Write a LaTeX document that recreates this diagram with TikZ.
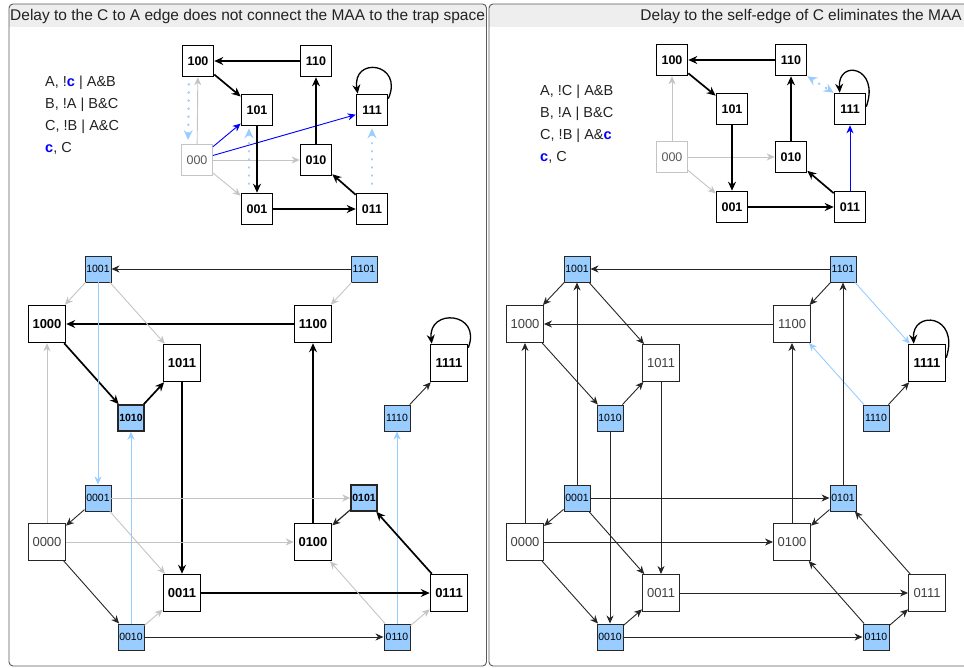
\documentclass[tikz,border=0pt]{standalone}
\usepackage{fontspec}
\setmainfont{Liberation Sans}
\usetikzlibrary{arrows.meta,calc}

\definecolor{paleblue}{HTML}{99CCFF}
\definecolor{fadegray}{HTML}{C4C4C4}
\definecolor{framegray}{HTML}{5A5A5A}
\definecolor{titlegray}{HTML}{EEEEEE}
\definecolor{ink}{HTML}{222222}

\tikzset{
  arr/.style={-{Stealth[length=9pt,width=8pt,inset=3pt]}},
  arrsmall/.style={-{Stealth[length=8pt,width=7pt,inset=2.5pt]}},
  strong/.style={arr, line width=1.7pt, black},
  norm/.style={arrsmall, line width=0.9pt, black!85},
  fade/.style={arrsmall, line width=0.9pt, fadegray},
  bluearr/.style={arrsmall, line width=0.9pt, blue},
  pale/.style={arrsmall, line width=0.9pt, paleblue},
  paledot/.style={-{Stealth[length=10pt,width=9pt,inset=3.5pt]}, paleblue, line width=2.6pt, line cap=round, dash pattern=on 0.1pt off 8pt},
  loopedge/.style={arr, line width=1.3pt, black},
  stbox/.style={draw, line width=1.6pt, minimum size=31pt, inner sep=0pt, font=\bfseries\fontsize{12.5}{13}\selectfont},
  stfade/.style={draw=fadegray, line width=0.9pt, minimum size=31pt, inner sep=0pt, text=black!65, font=\fontsize{12.5}{13}\selectfont},
  boldbox/.style={draw, line width=1.5pt, minimum size=37pt, inner sep=0pt, font=\bfseries\fontsize{13}{13}\selectfont},
  openbox/.style={draw=black!85, line width=0.9pt, minimum size=37pt, inner sep=0pt, text=black!75, font=\fontsize{13}{13}\selectfont},
  bluebox/.style={draw=black!85, fill=paleblue, line width=0.9pt, minimum size=26pt, inner sep=0pt, font=\fontsize{10.5}{11}\selectfont},
  blueboldbox/.style={bluebox, line width=1.5pt, font=\bfseries\fontsize{10.5}{11}\selectfont},
  legend/.style={anchor=west, inner sep=0pt, text=ink, font=\fontsize{14.5}{15}\selectfont},
  titletext/.style={inner sep=0pt, text=ink, font=\fontsize{15.5}{16}\selectfont}
}
\newcommand{\cdel}{\textcolor{blue}{\bfseries c}}

\begin{document}
\begin{tikzpicture}[x=1pt, y=-1pt]
\useasboundingbox (0,0) rectangle (964,668);

\begin{scope}
\clip[rounded corners=4pt] (9,4) rectangle (486.5,666);
\fill[titlegray] (9,4) rectangle (486.5,27);
\end{scope}
\draw[framegray, line width=0.9pt, rounded corners=4pt] (9,4) rectangle (486.5,666);
\begin{scope}
\clip[rounded corners=4pt] (489,4) rectangle (970,666);
\fill[titlegray] (489,4) rectangle (970,27);
\end{scope}
\draw[framegray, line width=0.9pt, rounded corners=4pt] (489,4) rectangle (970,666);

\node[titletext, anchor=west] (ltitle) at (10,16) {Delay to the C to A edge does not connect the MAA to the trap space};
\node[titletext, anchor=east] (rtitle) at (962,16) {Delay to the self-edge of C eliminates the MAA};

\node[legend] (la) at (45,83) {A, !\cdel{} | A\&B};
\node[legend] (lb) at (45,105) {B, !A | B\&C};
\node[legend] (lc) at (45,127) {C, !B | A\&C};
\node[legend] (ld) at (45,148) {\cdel, C};

\node[legend] (ra) at (540,92) {A, !C | A\&B};
\node[legend] (rb) at (540,114) {B, !A | B\&C};
\node[legend] (rc) at (540,136) {C, !B | A\&\cdel};
\node[legend] (rd) at (540,157) {\cdel, C};

\node[stbox] (a100) at (198,61) {100};
\node[stbox] (a110) at (316,61) {110};
\node[stbox] (a101) at (257,110) {101};
\node[stbox] (a111) at (372,110) {111};
\node[stfade] (a000) at (197,160) {000};
\node[stbox] (a010) at (316,160) {010};
\node[stbox] (a001) at (257,209) {001};
\node[stbox] (a011) at (372,209) {011};

\draw[fade] (a000) -- (a100);
\draw[fade] (a000) -- (a010);
\draw[fade] (a000) -- (a001);
\draw[bluearr] (a000) -- (a101);
\draw[bluearr] (a000) -- (a111);
\draw[strong] (a110) -- (a100);
\draw[strong] (a100) -- (a101);
\draw[strong] (a101) -- (a001);
\draw[strong] (a001) -- (a011);
\draw[strong] (a011) -- (a010);
\draw[strong] (a010) -- (a110);
\draw[loopedge] ($(a111.north east)+(0,5)$) .. controls +(16,-36) and +(-6,-38) .. ($(a111.north west)+(2,0)$);
\draw[paledot, shorten <=7pt, shorten >=4pt] ([xshift=-9pt]a100.south) -- ([xshift=-9pt]a000.north);
\draw[paledot, shorten <=9pt, shorten >=2pt] ([xshift=-8pt]a001.north) -- ([xshift=-8pt]a101.south);
\draw[paledot, shorten <=9pt, shorten >=2pt] (a011) -- (a111);

\node[stbox] (b100) at (672,60) {100};
\node[stbox] (b110) at (791,60) {110};
\node[stbox] (b101) at (732,109) {101};
\node[stbox] (b111) at (850,109) {111};
\node[stfade] (b000) at (672,157) {000};
\node[stbox] (b010) at (791,157) {010};
\node[stbox] (b001) at (732,207) {001};
\node[stbox] (b011) at (850,207) {011};

\draw[fade] (b000) -- (b100);
\draw[fade] (b000) -- (b010);
\draw[fade] (b000) -- (b001);
\draw[bluearr] (b011) -- (b111);
\draw[strong] (b110) -- (b100);
\draw[strong] (b100) -- (b101);
\draw[strong] (b101) -- (b001);
\draw[strong] (b001) -- (b011);
\draw[strong] (b011) -- (b010);
\draw[strong] (b010) -- (b110);
\draw[loopedge] ($(b111.north east)+(0,14)$) .. controls +(14,-40) and +(-2,-34) .. ($(b111.north west)+(6,0)$);
\draw[paledot, {Stealth[length=10pt,width=9pt,inset=3.5pt]}-{Stealth[length=10pt,width=9pt,inset=3.5pt]}] (b110.south east) -- (b111.north west);

\node[bluebox] (c1001) at (98,269) {1001};
\node[boldbox] (c1000) at (47,324) {1000};
\node[boldbox] (c1011) at (182,363) {1011};
\node[blueboldbox] (c1010) at (131,418) {1010};
\node[bluebox] (c1101) at (364,269) {1101};
\node[boldbox] (c1100) at (313,324) {1100};
\node[boldbox] (c1111) at (449,363) {1111};
\node[bluebox] (c1110) at (397,418) {1110};
\node[bluebox] (c0001) at (98,498) {0001};
\node[openbox] (c0000) at (47,542) {0000};
\node[boldbox] (c0011) at (182,593) {0011};
\node[bluebox] (c0010) at (131,637) {0010};
\node[blueboldbox] (c0101) at (364,498) {0101};
\node[boldbox] (c0100) at (313,542) {0100};
\node[boldbox] (c0111) at (449,593) {0111};
\node[bluebox] (c0110) at (397,637) {0110};

\draw[norm] (c1101) -- (c1001);
\draw[strong] (c1100) -- (c1000);
\draw[fade] (c1001) -- (c1000);
\draw[fade] (c1001) -- (c1011);
\draw[strong] (c1000) -- (c1010);
\draw[strong] (c1010) -- (c1011);
\draw[fade] (c1101) -- (c1100);
\draw[norm] (c1110) -- (c1111);
\draw[loopedge] ($(c1111.north east)+(0,4)$) .. controls +(14,-36) and +(-4,-36) .. ($(c1111.north west)+(2,0)$);
\draw[strong] (c1011) -- (c0011);
\draw[strong] (c0100) -- (c1100);
\draw[fade] (c0000) -- (c1000);
\draw[pale] (c1001) -- (c0001);
\draw[pale] (c0010) -- (c1010);
\draw[pale] (c0110) -- (c1110);
\draw[norm] (c0001) -- (c0000);
\draw[fade] (c0001) -- (c0011);
\draw[fade] (c0001) -- (c0101);
\draw[fade] (c0000) -- (c0100);
\draw[norm] (c0000) -- (c0010);
\draw[fade] (c0010) -- (c0011);
\draw[strong] (c0011) -- (c0111);
\draw[norm] (c0010) -- (c0110);
\draw[norm, line width=1.2pt] (c0101) -- (c0100);
\draw[strong] (c0111) -- (c0101);
\draw[fade] (c0110) -- (c0100);
\draw[fade] (c0110) -- (c0111);

\node[bluebox] (d1001) at (577,269) {1001};
\node[openbox] (d1000) at (525,324) {1000};
\node[openbox] (d1011) at (661,363) {1011};
\node[bluebox] (d1010) at (610,418) {1010};
\node[bluebox] (d1101) at (843,269) {1101};
\node[openbox] (d1100) at (792,324) {1100};
\node[boldbox] (d1111) at (927,363) {1111};
\node[bluebox] (d1110) at (876,418) {1110};
\node[bluebox] (d0001) at (577,498) {0001};
\node[openbox] (d0000) at (525,542) {0000};
\node[openbox] (d0011) at (661,593) {0011};
\node[bluebox] (d0010) at (610,637) {0010};
\node[bluebox] (d0101) at (843,498) {0101};
\node[openbox] (d0100) at (792,542) {0100};
\node[openbox] (d0111) at (927,593) {0111};
\node[bluebox] (d0110) at (876,637) {0110};

\draw[norm] (d1101) -- (d1001);
\draw[norm] (d1100) -- (d1000);
\draw[norm] (d1001) -- (d1000);
\draw[norm] (d1001) -- (d1011);
\draw[norm] (d1000) -- (d1010);
\draw[norm] (d1010) -- (d1011);
\draw[norm] (d1101) -- (d1100);
\draw[pale] (d1101) -- (d1111);
\draw[pale] (d1110) -- (d1100);
\draw[norm] (d1110) -- (d1111);
\draw[loopedge] ($(d1111.north east)+(0,14)$) .. controls +(14,-44) and +(-2,-34) .. ($(d1111.north west)+(6,0)$);
\draw[norm] (d0000) -- (d1000);
\draw[norm] (d0001) -- (d1001);
\draw[norm] (d1010) -- (d0010);
\draw[norm] (d1011) -- (d0011);
\draw[norm] (d0100) -- (d1100);
\draw[norm] (d0101) -- (d1101);
\draw[norm] (d0001) -- (d0000);
\draw[norm] (d0001) -- (d0011);
\draw[norm] (d0001) -- (d0101);
\draw[norm] (d0000) -- (d0100);
\draw[norm] (d0000) -- (d0010);
\draw[norm] (d0010) -- (d0011);
\draw[norm] (d0011) -- (d0111);
\draw[norm] (d0010) -- (d0110);
\draw[norm] (d0101) -- (d0100);
\draw[norm] (d0111) -- (d0101);
\draw[norm] (d0110) -- (d0100);
\draw[norm] (d0110) -- (d0111);
\end{tikzpicture}
\end{document}
